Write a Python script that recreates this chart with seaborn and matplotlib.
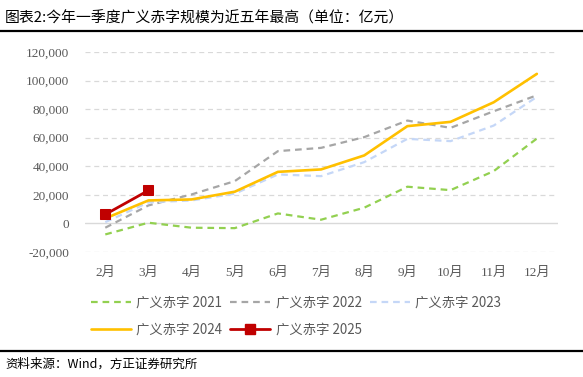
import matplotlib
matplotlib.use("Agg")
import matplotlib.pyplot as plt
import seaborn as sns
import pandas as pd
from matplotlib.ticker import FuncFormatter
from matplotlib.lines import Line2D

months = [2, 3, 4, 5, 6, 7, 8, 9, 10, 11, 12]
month_labels = [f"{m}月" for m in months]
s2021 = [-7700, 500, -3000, -3300, 7000, 2600, 11000, 25700, 23300, 36600, 59400]
s2022 = [-3000, 12600, 20300, 29600, 50600, 52900, 60400, 72000, 66900, 78500, 89700]
s2023 = [900, 14700, 16100, 20800, 34300, 33100, 42900, 59200, 57600, 68500, 88600]
s2024 = [3500, 16100, 16800, 22200, 36100, 37800, 47600, 68100, 71100, 84800, 104700]
s2025 = [6300, 23100]
series_names = ["广义赤字 2021", "广义赤字 2022", "广义赤字 2023", "广义赤字 2024", "广义赤字 2025"]
yticks = [-20000, 0, 20000, 40000, 60000, 80000, 100000, 120000]

sns.set_theme(style="white")
plt.rcParams['font.family'] = ['Noto Sans CJK SC', 'DejaVu Sans']

fig = plt.figure(figsize=(5.83, 3.77), dpi=100)
ax = fig.add_axes([85/583, 1-252/377, (558-85)/583, (252-52)/377])

styles = [
    dict(color="#92d050", lw=1.6, dashes=(3, 2.2), marker=None),
    dict(color="#a6a6a6", lw=1.6, dashes=(3, 2.2), marker=None),
    dict(color="#c5d7f7", lw=1.6, dashes=(3, 2.2), marker=None),
    dict(color="#ffc000", lw=1.9, dashes=None, marker=None),
    dict(color="#c00000", lw=2.0, dashes=None, marker="s"),
]
data = [s2021, s2022, s2023, s2024, s2025]

# grid
for v in yticks:
    if v == 0:
        ax.axhline(v, color="#d9d9d9", lw=1.0, zorder=0)
    else:
        ax.axhline(v, color="#d9d9d9", lw=0.9, ls=(0, (4, 3)), zorder=0)

handles = []
for name, vals, st in zip(series_names, data, styles):
    df = pd.DataFrame({"month": months[:len(vals)], "value": vals})
    sns.lineplot(data=df, x="month", y="value", ax=ax, color=st["color"], lw=st["lw"],
                 marker=st["marker"], markersize=7 if st["marker"] else None,
                 markeredgecolor=st["color"], sort=False, zorder=3)
    line = ax.lines[-1]
    if st["dashes"]:
        line.set_dashes(st["dashes"])
    h = Line2D([], [], color=st["color"], lw=st["lw"], marker=st["marker"],
               markersize=7 if st["marker"] else 0, markeredgecolor=st["color"])
    if st["dashes"]:
        h.set_dashes(st["dashes"])
    handles.append(h)

ax.set_xlim(1.53, 12.49)
ax.set_ylim(-20000, 120000)
ax.set_xticks(months)
ax.set_xticklabels(month_labels)
ax.set_yticks(yticks)
ax.yaxis.set_major_formatter(FuncFormatter(lambda v, p: f"{int(v):,}"))
ax.set_xlabel("")
ax.set_ylabel("")
for sp in ax.spines.values():
    sp.set_visible(False)
ax.tick_params(axis="both", length=0, colors="#595959", labelsize=9.5)
for lab in ax.get_xticklabels() + ax.get_yticklabels():
    lab.set_family(['Liberation Serif', 'Noto Sans CJK SC'])
ax.tick_params(axis="x", pad=11)
ax.tick_params(axis="y", pad=11.5)

order = [0, 3, 1, 4, 2]
leg = fig.legend([handles[i] for i in order], [series_names[i] for i in order],
                 ncol=3, loc="upper left", bbox_to_anchor=(91/583, 1-296/377),
                 frameon=False, borderpad=0, borderaxespad=0, handlelength=3.0,
                 handletextpad=0.4, columnspacing=0.6, labelspacing=0.95,
                 prop={'family': ['Noto Sans CJK SC'], 'size': 9.6})
for t in leg.get_texts():
    t.set_color("#595959")

fig.text(5/583, 1-18/377, "图表2:今年一季度广义赤字规模为近五年最高（单位：亿元）",
         fontsize=10.7, color="#000000", va="center", ha="left")
fig.add_artist(Line2D([0, 1], [1-31/377, 1-31/377], color="black", lw=1.6, transform=fig.transFigure))
fig.add_artist(Line2D([0, 1], [1-351/377, 1-351/377], color="black", lw=1.6, transform=fig.transFigure))
fig.text(5/583, 1-364/377, "资料来源：Wind，方正证券研究所", fontsize=9, color="#000000",
         va="center", ha="left", style="italic")

fig.savefig("out.png", dpi=100, facecolor="white")
